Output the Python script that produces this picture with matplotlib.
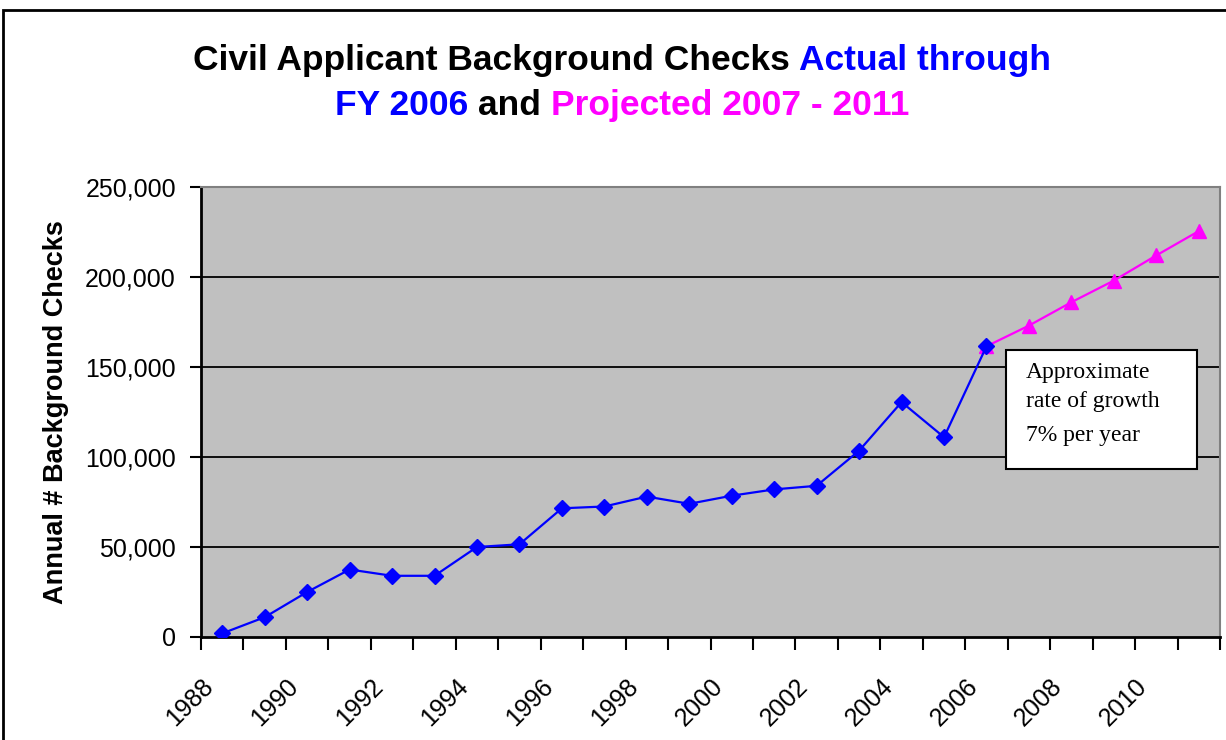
import numpy as np
import matplotlib.pyplot as plt
from matplotlib.patches import Rectangle
from matplotlib.ticker import FuncFormatter

################

years = list(range(1988, 2012))
actual_years = list(range(1988, 2007))
actual_checks = [2000, 11000, 25000, 37500, 34000, 34000, 50000, 51500,
                 71500, 72500, 78000, 74000, 78500, 82000, 84000, 103500,
                 130500, 111000, 161500]
proj_years = list(range(2006, 2012))
proj_checks = [161500, 173000, 186000, 198000, 212000, 225500]
tick_labels = [str(y) for y in range(1988, 2012, 2)]

################

plt.rcParams['font.family'] = ['Liberation Sans', 'DejaVu Sans']

fig = plt.figure(figsize=(12.26, 7.4), dpi=100)
ax = fig.add_axes([201 / 1226, 1 - 637 / 740, 1019 / 1226, 450 / 740])
ax.set_facecolor('#c0c0c0')

x_act = [years.index(y) + 0.5 for y in actual_years]
x_proj = [years.index(y) + 0.5 for y in proj_years]

for v in [50000, 100000, 150000, 200000]:
    ax.axhline(v, color='black', lw=1.3, zorder=1)

ax.plot(x_proj, proj_checks, color='#ff00ff', lw=1.6, marker='^', ms=10,
        zorder=3)
ax.plot(x_act, actual_checks, color='#0000ff', lw=1.6, marker='D', ms=8.5,
        zorder=4)

ax.set_xlim(0, len(years))
ax.set_ylim(0, 250000)
ax.set_yticks(range(0, 250001, 50000))
ax.yaxis.set_major_formatter(FuncFormatter(lambda v, p: f'{int(v):,}'))
ax.set_xticks(range(0, len(years) + 1))
ax.set_xticklabels([str(years[i]) if (i < len(years) and i % 2 == 0) else ''
                    for i in range(len(years) + 1)])
for lab in ax.get_xticklabels():
    lab.set_rotation(45)
    lab.set_ha('right')
    lab.set_va('top')
    lab.set_rotation_mode('anchor')

ax.tick_params(axis='y', direction='out', length=8, width=1.5, labelsize=18,
               pad=10)
ax.tick_params(axis='x', direction='out', length=9, width=1.5, labelsize=18,
               pad=18)

for side in ['top', 'right']:
    ax.spines[side].set_color('#808080')
    ax.spines[side].set_linewidth(1.5)
for side in ['left', 'bottom']:
    ax.spines[side].set_color('black')
    ax.spines[side].set_linewidth(2)

ax.set_ylabel('Annual # Background Checks', fontsize=19.5, fontweight='bold',
              labelpad=12)

# annotation box
fig.patches.append(Rectangle((1006 / 1226, 1 - 469 / 740), 191 / 1226,
                             119 / 740, transform=fig.transFigure,
                             facecolor='white', edgecolor='black', lw=1.5,
                             zorder=5))
for txt, ypix in [('Approximate', 373), ('rate of growth', 401),
                  ('7% per year', 435)]:
    fig.text(1026 / 1226, 1 - ypix / 740, txt, family='Liberation Serif',
             fontsize=17, va='center', ha='left', zorder=6)

# outer border of the chart area
fig.patches.append(Rectangle((3 / 1226, -0.05), 1.2, 1 - 10 / 740 + 0.05,
                             transform=fig.transFigure, facecolor='none',
                             edgecolor='black', lw=2))

# multi-coloured title
def colour_line(parts, ypix):
    fig.canvas.draw()
    r = fig.canvas.get_renderer()
    texts = []
    for s, c in parts:
        t = fig.text(0, 1 - ypix / 740, s, color=c, fontsize=25.5,
                     fontweight='bold', va='baseline', ha='left')
        texts.append(t)
    widths = [t.get_window_extent(r).width for t in texts]
    total = sum(widths)
    x = (622 - total / 2)
    for t, w in zip(texts, widths):
        t.set_x(x / 1226)
        x += w

colour_line([('Civil Applicant Background Checks ', 'black'),
             ('Actual through', '#0000ff')], 70)
colour_line([('FY 2006 ', '#0000ff'), ('and ', 'black'),
             ('Projected 2007 - 2011', '#ff00ff')], 115)

plt.savefig('out.png', dpi=100)
